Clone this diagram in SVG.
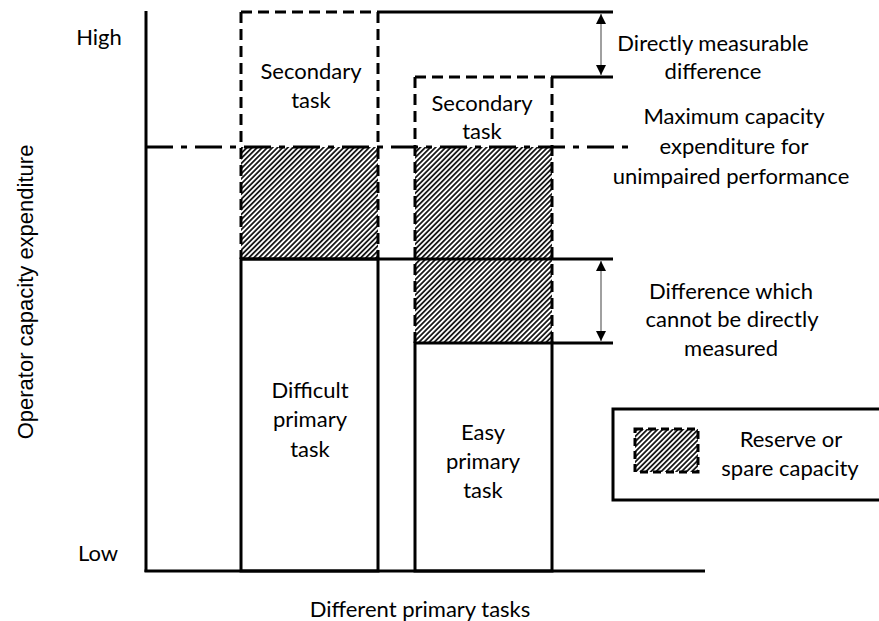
<svg xmlns="http://www.w3.org/2000/svg" width="879" height="621" viewBox="0 0 879 621">
  <defs>
    <pattern id="hatch" patternUnits="userSpaceOnUse" width="3.6" height="3.6" patternTransform="rotate(45)">
      <rect width="3.6" height="3.6" fill="#ffffff"/>
      <line x1="1.8" y1="0" x2="1.8" y2="3.6" stroke="#1a1a1a" stroke-width="1.8"/>
    </pattern>
    <marker id="arr" viewBox="0 0 10 10" refX="10" refY="5" markerWidth="10" markerHeight="10" markerUnits="userSpaceOnUse" orient="auto-start-reverse">
      <path d="M0,0 L10,5 L0,10 Z" fill="#000"/>
    </marker>
  </defs>
  <style>
    .solid { stroke: #000; stroke-width: 3; fill: none; }
    .dash { stroke: #000; stroke-width: 3; fill: none; stroke-dasharray: 11 6; }
    .dashdot { stroke: #000; stroke-width: 3; fill: none; stroke-dasharray: 27 8 6 8; }
    .dim { stroke: #808080; stroke-width: 1.5; fill: none; }
    text { font-family: Lato, "Open Sans", sans-serif; font-size: 22px; fill: #000; text-anchor: middle; }
    .axis { font-family: "Liberation Sans", Arial, sans-serif; font-size: 22px; }
  </style>

  <rect width="879" height="621" fill="#fff"/>

  <!-- reserve capacity areas -->
  <g id="reserve-difficult">
    <rect x="241" y="147" width="137" height="112" fill="url(#hatch)"/>
  </g>
  <g id="reserve-easy">
    <rect x="415" y="147" width="137" height="196" fill="url(#hatch)"/>
  </g>

  <!-- axes -->
  <g id="axes">
    <line class="solid" x1="146" y1="11" x2="146" y2="572"/>
    <line class="solid" x1="144.5" y1="571" x2="705" y2="571"/>
    <text x="99" y="45">High</text>
    <text x="98" y="561">Low</text>
    <text class="axis" transform="translate(33,292) rotate(-90)">Operator capacity expenditure</text>
    <text x="420" y="617">Different primary tasks</text>
  </g>

  <!-- difficult primary task column -->
  <g id="difficult-primary">
    <rect class="solid" x="241" y="259" width="137" height="312"/>
    <text x="310" y="398">Difficult</text>
    <text x="310" y="427">primary</text>
    <text x="310" y="457">task</text>
  </g>
  <g id="secondary-difficult">
    <line class="dash" x1="241" y1="12" x2="378" y2="12"/>
    <line class="dash" x1="241" y1="12" x2="241" y2="259"/>
    <line class="dash" x1="378" y1="12" x2="378" y2="259"/>
    <text x="311" y="79">Secondary</text>
    <text x="311" y="108">task</text>
  </g>

  <!-- easy primary task column -->
  <g id="easy-primary">
    <rect class="solid" x="415" y="343" width="137" height="228"/>
    <text x="483" y="440">Easy</text>
    <text x="483" y="469">primary</text>
    <text x="483" y="498">task</text>
  </g>
  <g id="secondary-easy">
    <line class="dash" x1="415" y1="77" x2="552" y2="77"/>
    <line class="dash" x1="415" y1="77" x2="415" y2="343"/>
    <line class="dash" x1="552" y1="77" x2="552" y2="343"/>
    <text x="482" y="111">Secondary</text>
    <text x="482" y="139">task</text>
  </g>

  <!-- reference levels and dimension arrows -->
  <g id="connectors">
    <line class="solid" x1="378" y1="12" x2="613" y2="12"/>
    <line class="solid" x1="552" y1="77" x2="613" y2="77"/>
    <line class="solid" x1="241" y1="259" x2="613" y2="259"/>
    <line class="solid" x1="552" y1="343" x2="613" y2="343"/>
    <line class="dashdot" x1="146" y1="147" x2="634" y2="147"/>
    <line class="dim" x1="601" y1="14" x2="601" y2="75" marker-start="url(#arr)" marker-end="url(#arr)"/>
    <line class="dim" x1="601" y1="261" x2="601" y2="341" marker-start="url(#arr)" marker-end="url(#arr)"/>
  </g>

  <g id="label-measurable">
    <text x="713" y="51">Directly measurable</text>
    <text x="713" y="79">difference</text>
  </g>
  <g id="label-maximum">
    <text x="734" y="124">Maximum capacity</text>
    <text x="734" y="154">expenditure for</text>
    <text x="731" y="184">unimpaired performance</text>
  </g>
  <g id="label-unmeasured">
    <text x="731" y="299">Difference which</text>
    <text x="732" y="327">cannot be directly</text>
    <text x="731" y="356">measured</text>
  </g>

  <!-- legend -->
  <g id="legend">
    <rect class="solid" x="613" y="409" width="270" height="91"/>
    <rect x="635" y="429" width="63" height="43" fill="url(#hatch)"/>
    <rect x="635" y="429" width="63" height="43" fill="none" stroke="#000" stroke-width="3" stroke-dasharray="8 5"/>
    <text x="791" y="447">Reserve or</text>
    <text x="790" y="476">spare capacity</text>
  </g>
</svg>
